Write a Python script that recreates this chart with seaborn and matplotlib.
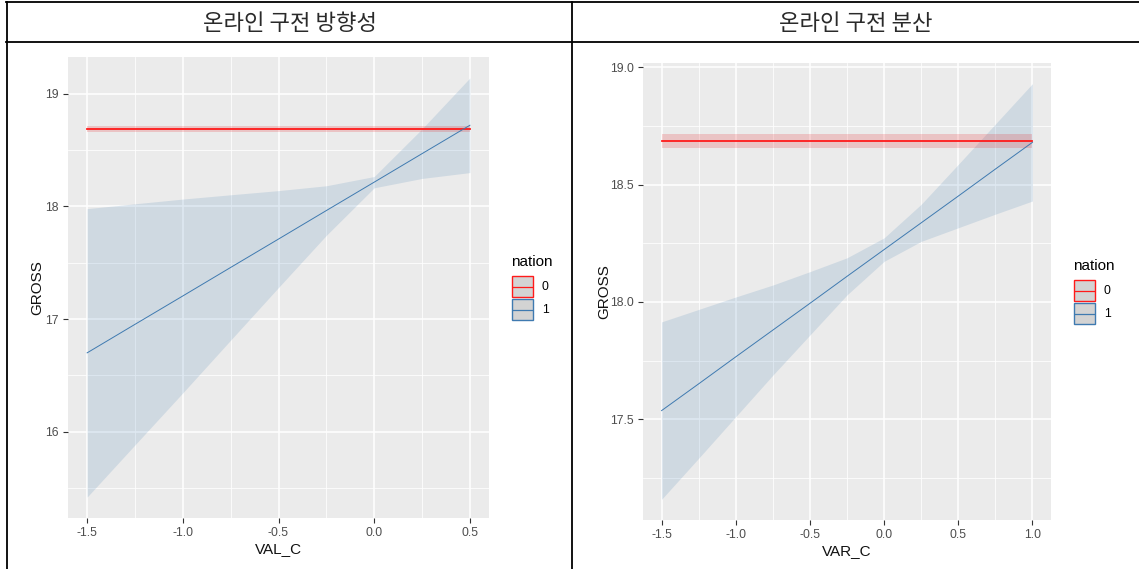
import matplotlib
matplotlib.use('Agg')

import pandas as pd
import matplotlib.pyplot as plt
from matplotlib.lines import Line2D
from matplotlib.patches import Rectangle
import seaborn as sns

# --- datos ---
# panel izquierdo: VAL_C
val_x = [-1.5, -1.25, -1.0, -0.75, -0.5, -0.25, 0.0, 0.25, 0.5]
val_fit1 = [16.700, 16.953, 17.205, 17.458, 17.710, 17.963, 18.215, 18.468, 18.720]
val_up1 = [17.980, 18.023, 18.065, 18.103, 18.140, 18.183, 18.265, 18.688, 19.140]
val_lo1 = [15.420, 15.883, 16.345, 16.813, 17.280, 17.743, 18.165, 18.248, 18.300]
val_fit0 = [18.685] * len(val_x)
val_up0 = [18.712] * len(val_x)
val_lo0 = [18.658] * len(val_x)

# panel derecho: VAR_C
var_x = [-1.5, -1.25, -1.0, -0.75, -0.5, -0.25, 0.0, 0.25, 0.5, 0.75, 1.0]
var_fit1 = [17.537, 17.651, 17.766, 17.880, 17.994, 18.109, 18.223, 18.337, 18.451, 18.566, 18.680]
var_up1 = [17.915, 17.968, 18.021, 18.072, 18.129, 18.188, 18.273, 18.416, 18.586, 18.758, 18.930]
var_lo1 = [17.159, 17.334, 17.511, 17.688, 17.859, 18.030, 18.173, 18.258, 18.316, 18.374, 18.430]
var_fit0 = [18.687] * len(var_x)
var_up0 = [18.717] * len(var_x)
var_lo0 = [18.656] * len(var_x)

headers = ["온라인 구전 방향성", "온라인 구전 분산"]
nation_levels = ["0", "1"]
colores = {"0": "#FF1A1A", "1": "#3F7AB0"}
rellenos = {"0": "#E8262A", "1": "#4682B4"}

W, H = 1139, 569
BG = "#EBEBEB"


def fx(px):
    return px / W


def fy(py):
    return 1 - py / H


def armar_df(x, fit0, fit1):
    return pd.DataFrame({
        "x": list(x) + list(x),
        "y": list(fit0) + list(fit1),
        "nation": ["0"] * len(x) + ["1"] * len(x),
    })


def panel(ax, x, fit0, lo0, up0, fit1, lo1, up1, xlabel, xticks, yticks,
          xminor, yminor, xlim, ylim, fmt):
    ax.set_facecolor(BG)
    for s in ax.spines.values():
        s.set_visible(False)
    ax.fill_between(x, lo1, up1, color=rellenos["1"], alpha=0.17, lw=0, zorder=2)
    ax.fill_between(x, lo0, up0, color=rellenos["0"], alpha=0.20, lw=0, zorder=2)
    df = armar_df(x, fit0, fit1)
    sns.lineplot(data=df, x="x", y="y", hue="nation", palette=colores,
                 hue_order=nation_levels, legend=False, ax=ax, zorder=3)
    for ln, lw in zip(ax.get_lines(), [1.3, 0.7]):
        ln.set_linewidth(lw)
    ax.set_xlim(*xlim)
    ax.set_ylim(*ylim)
    ax.set_xticks(xticks)
    ax.set_xticklabels([f"{t:.1f}" for t in xticks])
    ax.set_yticks(yticks)
    ax.set_yticklabels([fmt.format(t) for t in yticks])
    ax.set_xticks(xminor, minor=True)
    ax.set_yticks(yminor, minor=True)
    ax.grid(which="major", color="white", lw=1.1, zorder=1)
    ax.grid(which="minor", color="white", lw=0.55, zorder=1)
    ax.set_axisbelow(True)
    ax.tick_params(which="major", length=3.5, width=0.8, color="#333333",
                   labelcolor="#4D4D4D", labelsize=8.8, pad=3)
    ax.tick_params(which="minor", length=0)
    ax.set_xlabel(xlabel, fontsize=11, color="#111111")
    ax.set_ylabel("GROSS", fontsize=11, color="#111111")


def leyenda(fig, x0, y0):
    fig.text(fx(x0), fy(y0), "nation", fontsize=11, ha="left", va="center")
    for i, lvl in enumerate(nation_levels):
        top = y0 + 14 + i * 23
        fig.add_artist(Rectangle((fx(x0 + 1), fy(top + 21)), 21 / W, 21 / H,
                                 transform=fig.transFigure, facecolor="#D3D3D3",
                                 edgecolor=colores[lvl], lw=1.0))
        fig.add_artist(Line2D([fx(x0 + 2), fx(x0 + 21)], [fy(top + 10.5)] * 2,
                              transform=fig.transFigure, color=colores[lvl], lw=0.9))
        fig.text(fx(x0 + 31), fy(top + 11), lvl, fontsize=8.8, ha="left",
                 va="center")


plt.rcParams['font.family'] = ['Liberation Sans', 'DejaVu Sans']
fig = plt.figure(figsize=(W / 100, H / 100), dpi=100)
fig.patch.set_facecolor("white")

# panel izquierdo
ax1 = fig.add_axes([fx(68), fy(518), (489 - 68) / W, (518 - 57) / H])
panel(ax1, val_x, val_fit0, val_lo0, val_up0, val_fit1, val_lo1, val_up1,
      "VAL_C", [-1.5, -1.0, -0.5, 0.0, 0.5], [16, 17, 18, 19],
      [-1.25, -0.75, -0.25, 0.25], [15.5, 16.5, 17.5, 18.5],
      (-1.6, 0.6), (15.234, 19.326), "{:.0f}")
ax1.xaxis.set_label_coords(0.5, -0.067)
ax1.xaxis.label.set_va("center")
ax1.yaxis.set_label_coords(-0.0736, 0.5)
ax1.yaxis.label.set_va("center")

# panel derecho
ax2 = fig.add_axes([fx(643), fy(520), (1051 - 643) / W, (520 - 63) / H])
panel(ax2, var_x, var_fit0, var_lo0, var_up0, var_fit1, var_lo1, var_up1,
      "VAR_C", [-1.5, -1.0, -0.5, 0.0, 0.5, 1.0], [17.5, 18.0, 18.5, 19.0],
      [-1.25, -0.75, -0.25, 0.25, 0.75], [17.25, 17.75, 18.25, 18.75],
      (-1.625, 1.125), (17.071, 19.018), "{:.1f}")
ax2.xaxis.set_label_coords(0.5, -0.068)
ax2.xaxis.label.set_va("center")
ax2.yaxis.set_label_coords(-0.095, 0.5)
ax2.yaxis.label.set_va("center")

leyenda(fig, 511, 262)
leyenda(fig, 1073, 266)

# marco de la tabla
borde = dict(transform=fig.transFigure, color="black", lw=1.3)
fig.add_artist(Line2D([fx(6), fx(1139)], [fy(2), fy(2)], **borde))
fig.add_artist(Line2D([fx(6), fx(1139)], [fy(42), fy(42)], **borde))
fig.add_artist(Line2D([fx(7), fx(7)], [fy(2), fy(569)], **borde))
fig.add_artist(Line2D([fx(572), fx(572)], [fy(2), fy(569)], **borde))

for cx, txt in zip([290, 856], headers):
    fig.text(fx(cx), fy(23), txt, fontsize=16, ha="center", va="center",
             family=["Noto Sans CJK KR", "DejaVu Sans"], fontweight="light",
             color="#2A2A2A")

fig.savefig("out.png", dpi=100)
